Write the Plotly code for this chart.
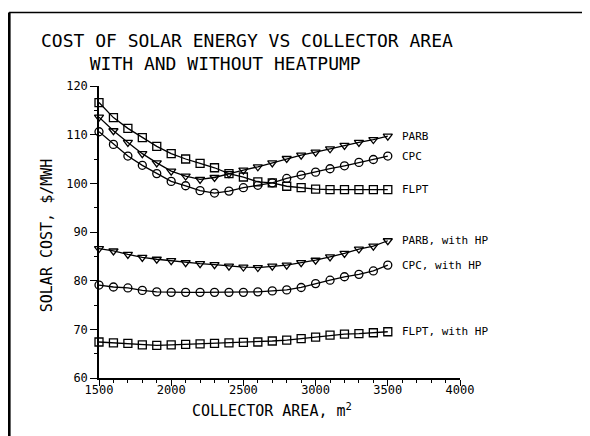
import plotly.graph_objects as go

area = [1500, 1600, 1700, 1800, 1900, 2000, 2100, 2200, 2300, 2400, 2500,
        2600, 2700, 2800, 2900, 3000, 3100, 3200, 3300, 3400, 3500]

parb = [113.6, 110.8, 108.4, 106.1, 104.2, 102.5, 101.5, 100.8, 101.2, 102.0, 102.7,
        103.4, 104.2, 105.1, 105.8, 106.4, 107.1, 107.8, 108.4, 109.0, 109.7]
cpc = [110.6, 108.0, 105.6, 103.7, 102.0, 100.4, 99.5, 98.5, 98.0, 98.4, 99.1,
       99.6, 100.1, 101.0, 101.7, 102.3, 103.0, 103.6, 104.3, 104.9, 105.6]
flpt = [116.6, 113.5, 111.3, 109.4, 107.6, 106.1, 105.0, 104.1, 103.2, 102.0, 101.3,
        100.3, 100.1, 99.4, 99.1, 98.8, 98.7, 98.7, 98.7, 98.7, 98.7]
parb_hp = [86.6, 86.1, 85.4, 84.8, 84.4, 84.1, 83.7, 83.5, 83.3, 83.0, 82.8,
           82.7, 83.0, 83.2, 83.7, 84.2, 84.9, 85.6, 86.5, 87.1, 88.2]
cpc_hp = [79.1, 78.7, 78.5, 78.0, 77.7, 77.6, 77.6, 77.6, 77.6, 77.6, 77.6,
          77.7, 77.9, 78.1, 78.6, 79.4, 80.1, 80.8, 81.3, 82.0, 83.2]
flpt_hp = [67.4, 67.2, 67.1, 66.8, 66.7, 66.8, 66.9, 67.0, 67.1, 67.2, 67.3,
           67.4, 67.6, 67.8, 68.1, 68.4, 68.8, 69.0, 69.1, 69.3, 69.5]

series = [
    ("PARB", parb, "triangle-down-open"),
    ("CPC", cpc, "circle-open"),
    ("FLPT", flpt, "square-open"),
    ("PARB, with HP", parb_hp, "triangle-down-open"),
    ("CPC, with HP", cpc_hp, "circle-open"),
    ("FLPT, with HP", flpt_hp, "square-open"),
]

title_1 = "COST OF SOLAR ENERGY VS COLLECTOR AREA"
title_2 = "WITH AND WITHOUT HEATPUMP"
x_title = "COLLECTOR AREA, m<sup>2</sup>"
y_title = "SOLAR COST, $/MWH"

FONT = "DejaVu Sans Mono"

fig = go.Figure()
annotations = []
for name, vals, sym in series:
    fig.add_trace(go.Scatter(
        x=area, y=vals, mode="lines+markers", name=name,
        line=dict(color="black", width=1.3),
        marker=dict(symbol=sym, size=8, color="black", line=dict(width=1.3, color="black")),
        cliponaxis=False, showlegend=False,
    ))
    annotations.append(dict(
        x=area[-1], y=vals[-1], xref="x", yref="y", text=name, showarrow=False,
        xanchor="left", yanchor="middle", xshift=12,
        font=dict(family=FONT, size=11, color="black"),
    ))

annotations += [
    dict(x=0.41, y=1.118, xref="paper", yref="paper",
         text=title_1 + "<br>" + title_2 + "&nbsp;" * 4, showarrow=False, align="center",
         xanchor="center", yanchor="middle", font=dict(family=FONT, size=18, color="black")),
    dict(x=0.479, y=-0.108, xref="paper", yref="paper", text=x_title, showarrow=False,
         xanchor="center", yanchor="middle", font=dict(family=FONT, size=15, color="black")),
    dict(x=-0.144, y=0.489, xref="paper", yref="paper", text=y_title, showarrow=False,
         textangle=-90, xanchor="center", yanchor="middle",
         font=dict(family=FONT, size=15, color="black")),
]

# page body has an 8px margin, so the figure is drawn 8px right/down of the window origin
fig.update_layout(
    width=582, height=428,
    margin=dict(l=91, r=130, t=78, b=58),
    paper_bgcolor="white", plot_bgcolor="white",
    annotations=annotations,
    shapes=[
        dict(type="line", xref="paper", yref="paper", x0=-0.249, x1=-0.249, y0=-0.21, y1=1.252,
             line=dict(color="black", width=3)),
        dict(type="line", xref="paper", yref="paper", x0=-0.249, x1=1.37, y0=1.252, y1=1.252,
             line=dict(color="black", width=1.5)),
    ],
)
fig.update_xaxes(
    range=[1500, 4000], dtick=500, tick0=1500, showgrid=False, zeroline=False,
    showline=True, linecolor="black", linewidth=1.5,
    ticks="outside", ticklen=6, tickwidth=1.2, tickcolor="black",
    minor=dict(dtick=100, ticks="outside", ticklen=3, tickcolor="black", showgrid=False),
    tickfont=dict(family=FONT, size=12, color="black"),
    ticklabelstandoff=-6,
)
fig.update_yaxes(
    range=[60, 120], dtick=10, tick0=60, showgrid=False, zeroline=False,
    showline=True, linecolor="black", linewidth=1.5,
    ticks="outside", ticklen=7, tickwidth=1.2, tickcolor="black",
    minor=dict(dtick=5, ticks="outside", ticklen=3, tickcolor="black", showgrid=False),
    tickfont=dict(family=FONT, size=12, color="black"),
)

fig.write_html("out.html")
